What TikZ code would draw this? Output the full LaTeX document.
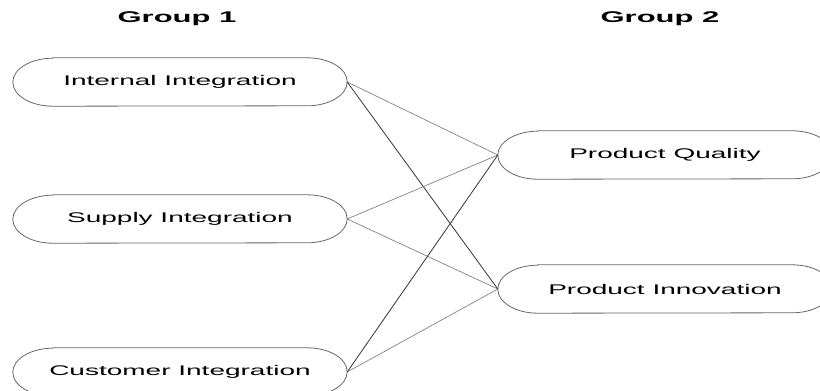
\documentclass[tikz,border=0pt]{standalone}
\usepackage{fontspec}
\setmainfont{Liberation Sans}
\newfontfamily\wide[FakeStretch=2.0]{Liberation Sans}
\usetikzlibrary{calc}
\begin{document}
\begin{tikzpicture}[x=1pt,y=1pt,
  box/.style={minimum width=334pt,minimum height=48pt,inner sep=0pt,font=\wide\fontsize{14}{16}\selectfont},
  outline/.style={draw=black!60,line width=0.8pt},
  title/.style={font=\wide\bfseries\fontsize{15.5}{18}\selectfont,inner sep=0pt},
  light/.style={draw=black!55,line width=0.6pt},
  dark/.style={draw=black!80,line width=0.8pt}]
\useasboundingbox (0,0) rectangle (820,-391);
\clip (0,0) rectangle (820,-391);
\node[title] (g1) at (177,-19) {Group 1};
\node[title] (g2) at (660,-19) {Group 2};
\node[box] (ii) at (180,-82) {Internal Integration};
\node[box] (si) at (180,-219) {Supply Integration};
\node[box] (ci) at (180,-372) {Customer Integration};
\node[box] (pq) at (665,-155) {Product Quality};
\node[box] (pi) at (665,-289) {Product Innovation};
\foreach \n in {ii,si,ci,pq,pi}{
  \draw[outline] ($(\n.north west)+(40pt,0)$) -- ($(\n.north east)+(-40pt,0)$)
    arc[start angle=90,end angle=-90,x radius=40pt,y radius=24pt]
    -- ($(\n.south west)+(40pt,0)$)
    arc[start angle=270,end angle=90,x radius=40pt,y radius=24pt] -- cycle;
}
\draw[light] (ii.east) -- (pq.west);
\draw[dark] (ii.east) -- (pi.west);
\draw[light] (si.east) -- (pq.west);
\draw[light] (si.east) -- (pi.west);
\draw[dark] (ci.east) -- (pq.west);
\draw[light] (ci.east) -- (pi.west);
\end{tikzpicture}
\end{document}
